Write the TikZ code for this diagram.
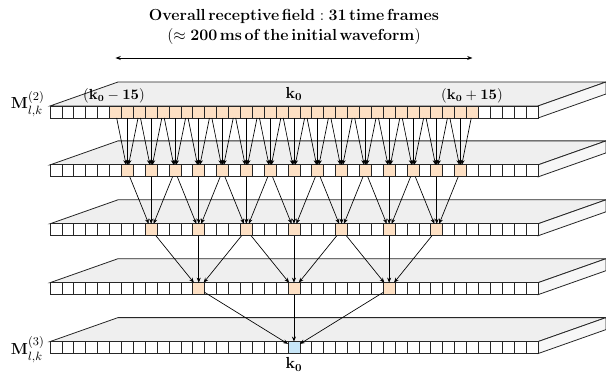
\documentclass[tikz,border=0pt]{standalone}
\usepackage{amsmath,amssymb}
\usetikzlibrary{arrows.meta,positioning}
\tikzset{every picture/.style={line width=0.75pt}}
\definecolor{rfcol}{RGB}{253,224,196}
\definecolor{kcol}{RGB}{200,230,248}
\definecolor{facecol}{RGB}{239,239,239}
\definecolor{sidecol}{RGB}{247,247,247}

\begin{document}
\begin{tikzpicture}[x=0.75pt,y=0.75pt,yscale=-1,xscale=1,
  cell/.style={draw=black!85,line width=0.6pt,minimum width=8.925pt,minimum height=9pt,inner sep=0pt,outer sep=0pt},
  slabtop/.style={draw=black!85,fill=facecol,line width=0.6pt},
  slabside/.style={draw=black!85,fill=sidecol,line width=0.6pt},
  conn/.style={-{Stealth[length=3.8pt,width=3pt]},line width=0.5pt},
  lbl/.style={inner sep=0.75pt}]
\useasboundingbox (0,0) rectangle (606,377);

%Shape: slabs with their rows of time frames
\foreach \r/\rad/\stp in {1/15/1,2/14/2,3/12/4,4/8/8,5/0/16}{
  \pgfmathsetmacro\ytop{106+(\r-1)*58.9}
  \draw[slabtop] (50,\ytop) -- (118,\ytop-24) -- (606,\ytop-24) -- (538,\ytop) -- cycle;
  \draw[slabside] (538,\ytop) -- (606,\ytop-24) -- (606,\ytop-12) -- (538,\ytop+12) -- cycle;
  \ifnum\r=5 \def\hotcol{kcol}\else \def\hotcol{rfcol}\fi
  \foreach \c in {0,...,40}{
    \pgfmathtruncatemacro\hot{and(abs(\c-20)<=\rad,mod(abs(\c-20),\stp)==0)}
    \ifnum\hot=1 \def\cfill{\hotcol}\else \def\cfill{white}\fi
    \node[cell,fill=\cfill] (c\r-\c) at ({50+(\c+0.5)*11.9},\ytop+6) {};
  }
}

%Straight Lines: dilation 1
\foreach \t in {6,8,...,34}
  \foreach \s in {-1,0,1}{
    \pgfmathtruncatemacro\src{\t+\s}
    \draw[conn] (c1-\src) -- (c2-\t);
  }
%Straight Lines: dilation 2
\foreach \t in {8,12,...,32}
  \foreach \s in {-2,0,2}{
    \pgfmathtruncatemacro\src{\t+\s}
    \draw[conn] (c2-\src) -- (c3-\t);
  }
%Straight Lines: dilation 4
\foreach \t in {12,20,28}
  \foreach \s in {-4,0,4}{
    \pgfmathtruncatemacro\src{\t+\s}
    \draw[conn] (c3-\src) -- (c4-\t);
  }
%Straight Lines: dilation 8
\foreach \s in {-8,0,8}{
  \pgfmathtruncatemacro\src{20+\s}
  \draw[conn] (c4-\src) -- (c5-20);
}

%Straight Lines: receptive field
\coordinate (rfl) at (c1-5 |- 0,58);
\coordinate (rfr) at (c1-35 |- 0,58);
\draw [{Stealth[length=4pt,width=3pt]}-{Stealth[length=4pt,width=3pt]},line width=0.6pt] (rfl) -- (rfr);

% Text Node
\node[lbl,align=center,font=\fontsize{13}{15}\selectfont] (title) at (294,27) {$\mathbf{Overall\,receptive\,field : 31\,time\,frames}$\\$\mathbf{(\approx 200\,ms\,of\,the\,initial\,waveform)}$};
% Text Node
\node[lbl,anchor=base east,font=\fontsize{12.6}{14}\selectfont] (m2) at (46,109) {$\mathbf{M}^{(2)}_{l,k}$};
% Text Node
\node[lbl,anchor=base east,font=\fontsize{12.6}{14}\selectfont] (m3) at (46,354.5) {$\mathbf{M}^{(3)}_{l,k}$};
% Text Node
\node[lbl,font=\fontsize{10.5}{12}\selectfont] (klo) at (114,96) {$(\mathbf{k_0-15})$};
% Text Node
\node[lbl,font=\large] (kmid) at (294,94) {$\mathbf{k_0}$};
% Text Node
\node[lbl,font=\fontsize{10.5}{12}\selectfont] (khi) at (472,96) {$(\mathbf{k_0+15})$};
% Text Node
\node[lbl,font=\large,below=2pt of c5-20] (kbot) {$\mathbf{k_0}$};
\end{tikzpicture}
\end{document}
